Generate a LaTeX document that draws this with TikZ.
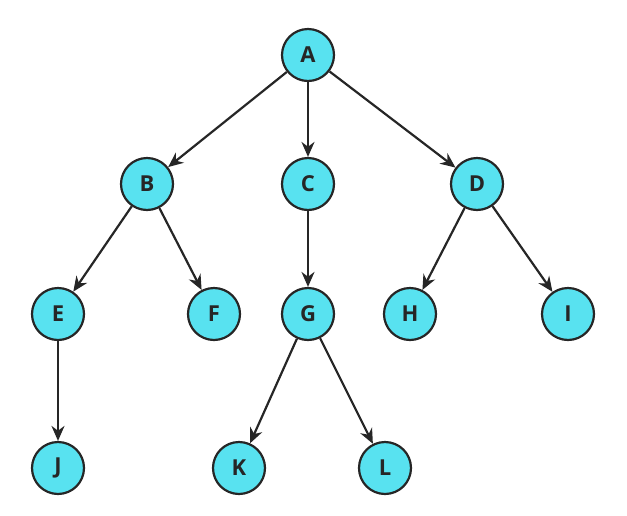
\documentclass[tikz,border=0pt]{standalone}
\usepackage{fontspec}
\setmainfont{Open Sans}
\usetikzlibrary{arrows.meta}
\definecolor{nodefill}{RGB}{88,226,240}
\definecolor{edgecol}{RGB}{38,38,38}
\tikzset{
  treenode/.style={circle, draw=edgecol, line width=2.2pt, fill=nodefill,
    minimum size=52pt, inner sep=0pt, font=\fontsize{22}{26}\selectfont\bfseries, text=edgecol},
  treeedge/.style={draw=edgecol, line width=2.2pt, -{Stealth[length=15pt,width=13pt]}}
}
\begin{document}
\begin{tikzpicture}[x=1pt,y=-1pt]
\useasboundingbox (0,0) rectangle (627,515);
\node[treenode] (A) at (308,55) {A};
\node[treenode] (B) at (147,184) {B};
\node[treenode] (C) at (308,184) {C};
\node[treenode] (D) at (477,184) {D};
\node[treenode] (E) at (58,314) {E};
\node[treenode] (F) at (214,314) {F};
\node[treenode] (G) at (308,314) {G};
\node[treenode] (H) at (410,314) {H};
\node[treenode] (I) at (568,314) {I};
\node[treenode] (J) at (58,468) {J};
\node[treenode] (K) at (239,468) {K};
\node[treenode] (L) at (385,468) {L};
\draw[treeedge] (A) -- (B);
\draw[treeedge] (A) -- (C);
\draw[treeedge] (A) -- (D);
\draw[treeedge] (B) -- (E);
\draw[treeedge] (B) -- (F);
\draw[treeedge] (C) -- (G);
\draw[treeedge] (D) -- (H);
\draw[treeedge] (D) -- (I);
\draw[treeedge] (E) -- (J);
\draw[treeedge] (G) -- (K);
\draw[treeedge] (G) -- (L);
\end{tikzpicture}
\end{document}
